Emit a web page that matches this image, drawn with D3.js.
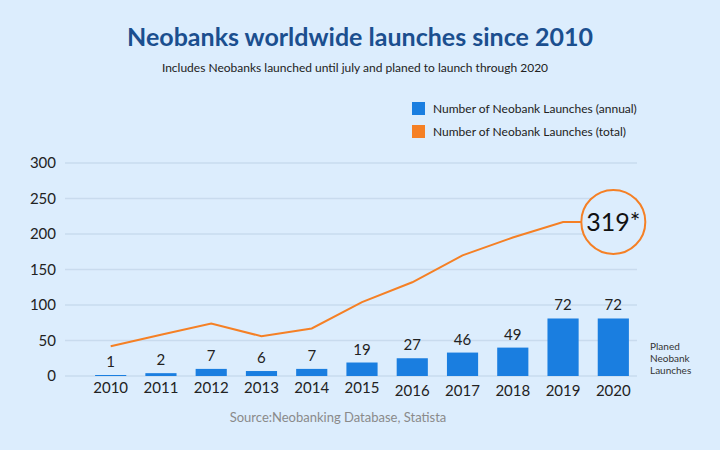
<!DOCTYPE html>
<html><head><meta charset="utf-8">
<script src="https://cdn.jsdelivr.net/npm/d3@7"></script>
<style>body{margin:0;background:#dcedfd}text{font-family:Lato,"Open Sans",sans-serif}</style>
</head><body><svg id="chart" width="720" height="450"></svg>
<script>
// chart data
var years = ["2010","2011","2012","2013","2014","2015","2016","2017","2018","2019","2020"];
var annual = [1.4,4,10,7,10,19,25,33,40,81,81];
var annualLabels = ["1","2","7","6","7","19","27","46","49","72","72"];
var total = [42,58,74,56,67,104,132,170,195,217,217];
var yTicks = [0,50,100,150,200,250,300];

var svg = d3.select("#chart");
svg.append("rect").attr("width",720).attr("height",450).attr("fill","#dcedfd");

var x = d3.scaleBand().domain(years).range([76,648]).padding(0.38);
var y = d3.scaleLinear().domain([0,300]).range([376,163]);

svg.append("text").attr("x",360).attr("y",46).attr("text-anchor","middle")
	.attr("font-size",25).attr("font-weight","bold").attr("fill","#1b4f8f")
	.text("Neobanks worldwide launches since 2010");
svg.append("text").attr("x",355).attr("y",72).attr("text-anchor","middle")
	.attr("font-size",12).attr("fill","#222")
	.text("Includes Neobanks launched until july and planed to launch through 2020");

// legend
var leg = [["Number of Neobank Launches (annual)","#1a7ee0"],["Number of Neobank Launches (total)","#f58025"]];
leg.forEach(function(d,i){
	svg.append("rect").attr("x",412).attr("y",102+i*23).attr("width",13).attr("height",13).attr("fill",d[1]);
	svg.append("text").attr("x",433).attr("y",113+i*23).attr("font-size",12).attr("fill","#222").text(d[0]);
});

// grid + y axis
svg.selectAll(".grid").data(yTicks).enter().append("line")
	.attr("x1",65).attr("x2",637).attr("y1",y).attr("y2",y)
	.attr("stroke","#c9dbee").attr("stroke-width",1.5);
svg.selectAll(".yl").data(yTicks).enter().append("text")
	.attr("x",56).attr("y",function(d){return y(d)+5;}).attr("text-anchor","end")
	.attr("font-size",15).attr("fill","#222").text(function(d){return d;});

// bars
svg.selectAll(".bar").data(annual).enter().append("rect")
	.attr("x",function(d,i){return x(years[i]);}).attr("width",x.bandwidth())
	.attr("y",y).attr("height",function(d){return y(0)-y(d);}).attr("fill","#1a7ee0");
svg.selectAll(".bl").data(annualLabels).enter().append("text")
	.attr("x",function(d,i){return x(years[i])+x.bandwidth()/2;})
	.attr("y",function(d,i){return y(annual[i])-8;}).attr("text-anchor","middle")
	.attr("font-size",15).attr("fill","#222").text(function(d){return d;});
svg.selectAll(".xl").data(years).enter().append("text")
	.attr("x",function(d){return x(d)+x.bandwidth()/2;})
	.attr("y",function(d,i){return i>5?396:393;}).attr("text-anchor","middle")
	.attr("font-size",15).attr("fill","#222").text(function(d){return d;});

// total line
var line = d3.line().x(function(d,i){return x(years[i])+x.bandwidth()/2;}).y(function(d){return y(d);});
svg.append("path").datum(total).attr("d",line).attr("fill","none")
	.attr("stroke","#f58025").attr("stroke-width",2);

var cx = x("2020")+x.bandwidth()/2, cy = y(total[10]);
svg.append("circle").attr("cx",cx).attr("cy",cy).attr("r",32)
	.attr("fill","#dcedfd").attr("stroke","#f58025").attr("stroke-width",2);
svg.append("text").attr("x",cx).attr("y",cy+9).attr("text-anchor","middle")
	.attr("font-size",25).attr("fill","#111").text("319*");

svg.selectAll(".pl").data(["Planed","Neobank","Launches"]).enter().append("text")
	.attr("x",650).attr("y",function(d,i){return 350+i*12;})
	.attr("font-size",10).attr("fill","#333").text(function(d){return d;});

svg.append("text").attr("x",338).attr("y",422).attr("text-anchor","middle")
	.attr("font-size",13).attr("fill","#8a8a8a").text("Source:Neobanking Database, Statista");
</script></body></html>
